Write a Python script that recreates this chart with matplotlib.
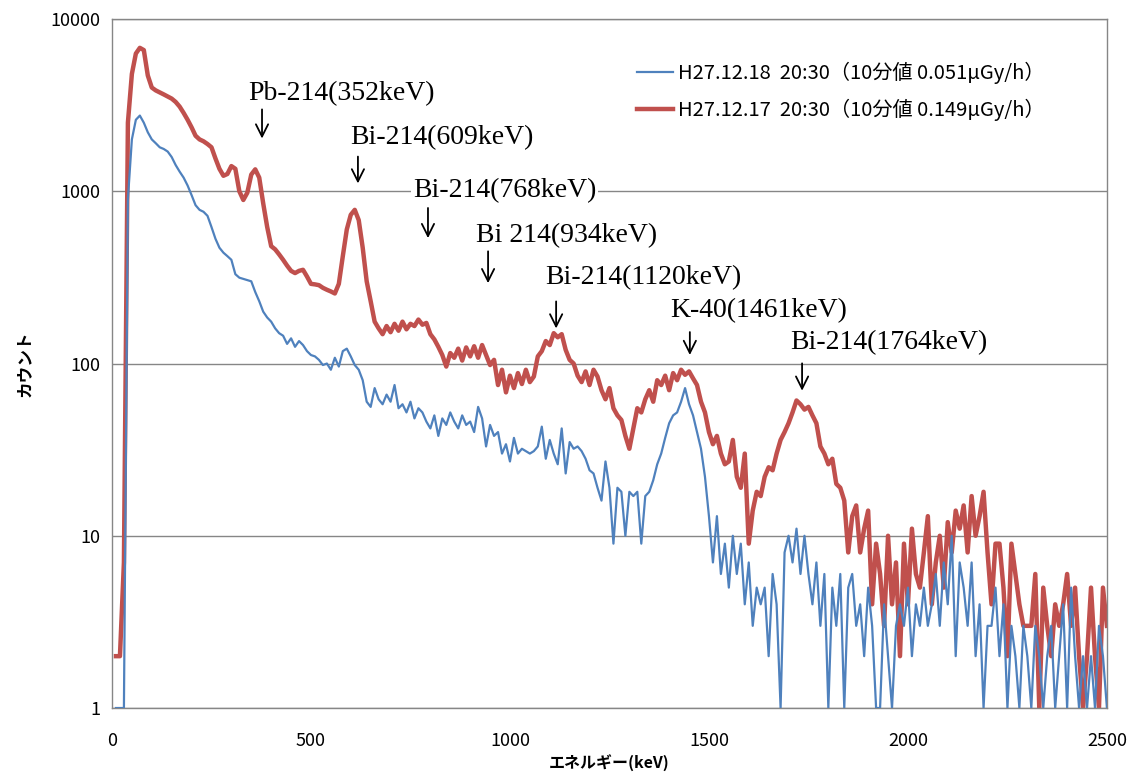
import numpy as np
import matplotlib
matplotlib.use('Agg')
import matplotlib.pyplot as plt
from matplotlib.ticker import FixedLocator, NullLocator

plt.rcParams['font.family'] = ['Noto Sans CJK JP', 'DejaVu Sans']

# エネルギー (keV), 10 keV刻み
energy = np.arange(10, 2510, 10)

# H27.12.17 20:30 (赤)
red_counts = [
    2, 2, 7, 2500, 4800, 6300, 6800, 6600, 4700, 4000,
    3850, 3750, 3650, 3550, 3450, 3300, 3100, 2850, 2600, 2350,
    2100, 2000, 1950, 1880, 1800, 1550, 1350, 1230, 1260, 1400,
    1350, 1000, 890, 980, 1250, 1340, 1200, 850, 620, 480,
    460, 430, 400, 370, 345, 335, 345, 350, 320, 290,
    288, 285, 275, 268, 262, 255, 290, 420, 600, 730,
    780, 680, 470, 300, 230, 175, 160, 148, 165, 152,
    170, 155, 175, 158, 170, 165, 180, 168, 172, 148,
    138, 125, 112, 96, 115, 108, 122, 104, 124, 110,
    126, 108, 128, 112, 98, 105, 75, 92, 68, 85,
    72, 88, 76, 92, 78, 84, 110, 118, 135, 128,
    150, 142, 148, 120, 105, 100, 85, 78, 90, 75,
    92, 84, 70, 62, 72, 55, 50, 47, 38, 32,
    42, 55, 52, 62, 70, 60, 80, 75, 85, 70,
    88, 80, 92, 86, 90, 82, 75, 60, 52, 40,
    34, 38, 30, 26, 27, 36, 22, 19, 30, 9,
    14, 18, 17, 22, 25, 24, 30, 36, 40, 45,
    52, 61, 58, 54, 56, 50, 45, 33, 30, 26,
    28, 20, 19, 16, 8, 13, 15, 8, 11, 14,
    4, 9, 6, 3, 10, 4, 7, 2, 9, 4,
    11, 6, 5, 8, 13, 4, 7, 10, 5, 12,
    8, 14, 11, 15, 8, 17, 10, 13, 18, 8,
    4, 9, 9, 5, 2, 9, 6, 4, 3, 3,
    3, 6, 1, 5, 3, 2, 4, 3, 4, 6,
    3, 5, 2, 1, 2, 5, 2, 1, 5, 3,
]

# H27.12.18 20:30 (青)
blue_counts = [
    1, 1, 1, 900, 2000, 2600, 2750, 2500, 2200, 2000,
    1900, 1800, 1760, 1700, 1580, 1420, 1300, 1200, 1080, 950,
    830, 780, 760, 720, 620, 530, 470, 440, 420, 400,
    330, 315, 310, 305, 300, 260, 230, 200, 185, 175,
    160, 150, 145, 130, 140, 125, 135, 128, 118, 112,
    110, 105, 98, 100, 92, 108, 96, 118, 122, 110,
    98, 92, 80, 60, 56, 72, 62, 58, 66, 60,
    75, 55, 58, 52, 60, 48, 55, 52, 46, 42,
    50, 38, 48, 44, 52, 46, 42, 50, 44, 46,
    40, 56, 48, 33, 44, 38, 40, 30, 34, 27,
    37, 30, 32, 31, 30, 31, 33, 43, 28, 36,
    30, 26, 42, 23, 35, 32, 33, 31, 28, 24,
    23, 19, 16, 27, 19, 9, 19, 18, 10, 18,
    17, 18, 9, 17, 18, 21, 26, 30, 37, 45,
    50, 52, 60, 72, 58, 50, 40, 32, 22, 13,
    7, 13, 6, 9, 5, 10, 6, 9, 4, 7,
    3, 5, 4, 5, 2, 6, 4, 1, 8, 10,
    7, 11, 6, 10, 6, 4, 7, 3, 6, 1,
    5, 3, 6, 1, 5, 6, 3, 4, 2, 5,
    3, 1, 1, 4, 2, 1, 3, 4, 3, 5,
    2, 4, 3, 5, 3, 4, 6, 3, 7, 4,
    10, 2, 7, 5, 3, 7, 2, 4, 1, 3,
    3, 5, 2, 4, 1, 3, 2, 1, 3, 2,
    1, 3, 2, 1, 2, 3, 1, 2, 4, 1,
    5, 2, 1, 2, 1, 2, 1, 3, 2, 1,
]

label_blue = 'H27.12.18  20:30（10分値 0.051μGy/h）'
label_red = 'H27.12.17  20:30（10分値 0.149μGy/h）'

# 核種ラベルと矢印 (keV, count)
peak_labels = ['Pb-214(352keV)', 'Bi-214(609keV)', 'Bi-214(768keV)', 'Bi 214(934keV)',
               'Bi-214(1120keV)', 'K-40(1461keV)', 'Bi-214(1764keV)']
label_x = [342, 598, 756, 915, 1088, 1402, 1704]
label_y = [3710, 2060, 1015, 556, 317, 204, 133]
arrow_x = [377, 618, 794, 945, 1116, 1452, 1734]
arrow_top = [3100, 1650, 830, 465, 238, 158, 104]
arrow_bottom = [1950, 1070, 515, 282, 154, 108, 67]

fig = plt.figure(figsize=(11.38, 7.82), dpi=100)
ax = fig.add_axes([0.0984, 0.0946, 0.8743, 0.8811])

ax.plot(energy, blue_counts, color='#4F81BD', lw=1.6, label=label_blue, zorder=3)
ax.plot(energy, red_counts, color='#C0504D', lw=3.2, label=label_red, zorder=2)

ax.set_yscale('log')
ax.set_ylim(1, 10000)
ax.set_xlim(0, 2500)
ax.yaxis.set_major_locator(FixedLocator([1, 10, 100, 1000, 10000]))
ax.yaxis.set_minor_locator(NullLocator())
ax.set_yticklabels(['1', '10', '100', '1000', '10000'])
ax.set_xticks([0, 500, 1000, 1500, 2000, 2500])
ax.tick_params(axis='both', length=0, labelsize=13)
ax.tick_params(axis='x', pad=17)
ax.tick_params(axis='y', pad=8)
ax.grid(axis='y', color='#868686', lw=1.0)
ax.set_axisbelow(True)
for s in ax.spines.values():
    s.set_color('#868686')
    s.set_linewidth(1.0)

ax.set_xlabel('エネルギー(keV)', fontsize=11.5, fontweight='bold', labelpad=4)
ax.set_ylabel('カウント', fontsize=12, fontweight='bold', labelpad=12)

for i in range(len(peak_labels)):
    ax.text(label_x[i], label_y[i], peak_labels[i], family='Liberation Serif',
            fontsize=20, ha='left', va='center', zorder=5,
            bbox=dict(facecolor='white', edgecolor='none', pad=1))
    ax.annotate('', xy=(arrow_x[i], arrow_bottom[i]), xytext=(arrow_x[i], arrow_top[i]),
                arrowprops=dict(arrowstyle='->', lw=1.3, color='black', mutation_scale=22),
                zorder=5)

ax.legend(loc='upper left', bbox_to_anchor=(0.52, 0.95), frameon=False,
          fontsize=14.5, handlelength=1.75, handletextpad=0.25, labelspacing=0.75,
          borderaxespad=0)

plt.savefig('out.png', dpi=100)
